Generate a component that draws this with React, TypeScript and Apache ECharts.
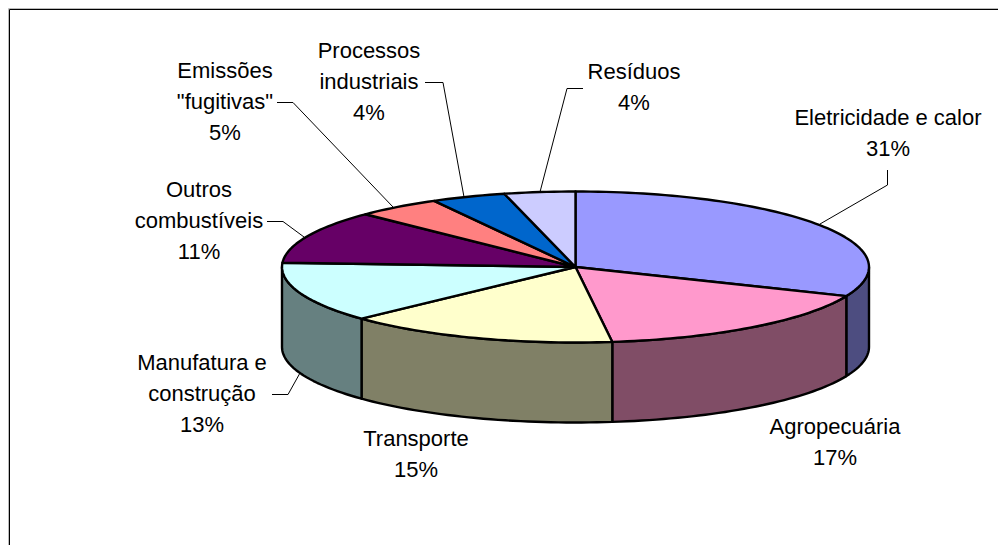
import React, { useEffect, useRef } from "react";
import * as echarts from "echarts";

const categories = [
  "Eletricidade e calor",
  "Agropecuária",
  "Transporte",
  "Manufatura e\nconstrução",
  "Outros\ncombustíveis",
  'Emissões\n"fugitivas"',
  "Processos\nindustriais",
  "Resíduos",
];
const values = [31.3, 16.7, 15.0, 12.9, 11.4, 4.7, 4.1, 3.9];
const topColors = ["#9999FF", "#FF99CC", "#FFFFCC", "#CCFFFF", "#660066", "#FF8080", "#0066CC", "#CCCCFF"];
const sideColors = ["#4D4D80", "#804D66", "#808066", "#668080", "#330033", "#804040", "#003366", "#666680"];

const labelAnchors: number[][] = [
  [888, 133], [835, 442], [416, 454], [202, 393], [199, 220], [225, 101], [369, 81], [634, 87],
];
const leaderLines: (number[][] | null)[] = [
  [[887.5, 170], [887.5, 185], [820, 224]],
  null,
  null,
  [[272, 394.5], [288, 394.5], [300, 373]],
  [[267, 221.5], [283, 221.5], [304, 237]],
  [[277, 102.5], [293, 102.5], [393, 207]],
  [[425, 82.5], [443, 82.5], [464, 197]],
  [[583, 88.5], [567, 88.5], [540, 192]],
];

const CX = 575.5;
const CY = 267;
const RX = 293.5;
const RY = 75.5;
const DEPTH = 80;

const total = values.reduce((a, b) => a + b, 0);
const startAngle = (i: number) => (values.slice(0, i).reduce((a, b) => a + b, 0) / total) * 360;
const pt = (deg: number, dy = 0) => {
  const r = (deg * Math.PI) / 180;
  return [CX + RX * Math.sin(r), CY - RY * Math.cos(r) + dy];
};
const arc = (a: number, b: number, dy = 0) => {
  const n = Math.max(2, Math.ceil((b - a) / 1.5));
  const out: number[][] = [];
  for (let k = 0; k <= n; k++) out.push(pt(a + ((b - a) * k) / n, dy));
  return out;
};

const renderWall = (params: any) => {
  const i = params.dataIndex;
  const a = Math.max(startAngle(i), 90);
  const b = Math.min(startAngle(i + 1), 270);
  if (b <= a) return { type: "group", children: [] };
  return {
    type: "polygon",
    shape: { points: [...arc(a, b), ...arc(a, b, DEPTH).reverse()] },
    style: { fill: sideColors[i], stroke: "#000", lineWidth: 2.4, lineJoin: "round" },
  };
};
const renderTop = (params: any) => {
  const i = params.dataIndex;
  return {
    type: "polygon",
    shape: { points: [[CX, CY], ...arc(startAngle(i), startAngle(i + 1))] },
    style: { fill: topColors[i], stroke: "#000", lineWidth: 2.4, lineJoin: "round" },
  };
};
const renderLabel = (params: any) => {
  const i = params.dataIndex;
  const [x, y] = labelAnchors[i];
  const children: any[] = [
    {
      type: "text",
      style: {
        x,
        y,
        text: `${categories[i]}\n${Math.round(values[i])}%`,
        fontFamily: "Liberation Sans",
        fontSize: 22,
        lineHeight: 31,
        fill: "#000",
        align: "center",
        verticalAlign: "middle",
      },
    },
  ];
  const line = leaderLines[i];
  if (line) {
    children.push({
      type: "polyline",
      shape: { points: line },
      style: { fill: "none", stroke: "#000", lineWidth: 1 },
    });
  }
  return { type: "group", children };
};

export default function App() {
  const ref = useRef<HTMLDivElement>(null);
  useEffect(() => {
    document.body.style.margin = "0";
    document.body.style.overflow = "hidden";
    const chart = echarts.init(ref.current!, undefined, { renderer: "svg" });
    chart.setOption({
      animation: false,
      backgroundColor: "#fff",
      tooltip: { show: false },
      graphic: [
        { type: "polyline", silent: true, shape: { points: [[8.5, 545], [8.5, 8.5], [998, 8.5]] }, style: { fill: "none", stroke: "#bbb", lineWidth: 1 } },
        { type: "polyline", silent: true, shape: { points: [[9.5, 545], [9.5, 9.5], [998, 9.5]] }, style: { fill: "none", stroke: "#000", lineWidth: 1 } },
      ],
      series: [
        { type: "custom", coordinateSystem: "none", silent: true, z: 1, data: values, renderItem: renderWall },
        { type: "custom", coordinateSystem: "none", silent: true, z: 2, data: values, renderItem: renderTop },
        { type: "custom", coordinateSystem: "none", silent: true, z: 3, data: values, renderItem: renderLabel },
      ],
    });
    return () => chart.dispose();
  }, []);
  return <div ref={ref} style={{ width: 998, height: 545 }} />;
}
